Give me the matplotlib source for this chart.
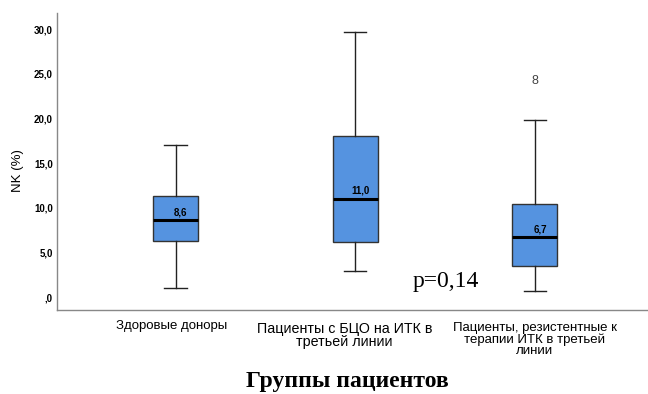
import matplotlib
matplotlib.use("Agg")
import matplotlib.pyplot as plt
import matplotlib.transforms as mtransforms

# Group labels (x axis)
groups = [
    "Здоровые доноры",
    "Пациенты с БЦО на ИТК в\nтретьей линии",
    "Пациенты, резистентные к\nтерапии ИТК в третьей\nлинии",
]

# Box-plot summary statistics of NK (%) per group
whisker_low = [1.0, 2.9, 0.7]
q1 = [6.3, 6.2, 3.5]
median = [8.6, 11.0, 6.7]
q3 = [11.3, 18.0, 10.4]
whisker_high = [17.0, 29.7, 19.8]
outliers = [[], [], [24.2]]
outlier_ids = [[], [], ["8"]]

y_ticks = [0, 5, 10, 15, 20, 25, 30]
p_text = "p=0,14"

box_color = "#5593E0"

fig = plt.figure(figsize=(6.48, 3.94), dpi=100)
ax = fig.add_axes([0.088, 0.213, 0.912, 0.754])

stats = []
for i in range(len(groups)):
    stats.append(dict(whislo=whisker_low[i], q1=q1[i], med=median[i],
                      q3=q3[i], whishi=whisker_high[i], fliers=[]))

positions = list(range(len(groups)))
ax.bxp(stats, positions=positions, widths=0.25, patch_artist=True,
       showfliers=False,
       boxprops=dict(facecolor=box_color, edgecolor="#333333", linewidth=1.0),
       medianprops=dict(color="black", linewidth=2.2),
       whiskerprops=dict(color="#222222", linewidth=1.0),
       capprops=dict(color="#222222", linewidth=1.0),
       capwidths=0.125)

# outliers drawn with their case number
for i, (vals, ids) in enumerate(zip(outliers, outlier_ids)):
    for v, cid in zip(vals, ids):
        ax.text(positions[i], v, cid, ha="center", va="center",
                fontsize=9, color="#444444", family="Liberation Sans")

# median value labels
for i, m in enumerate(median):
    ax.text(positions[i] + 0.03, m + 0.35, f"{m:.1f}".replace(".", ","),
            ha="center", va="bottom", fontsize=7, fontweight="bold",
            family="Liberation Sans")

ax.set_xlim(-0.66, 2.63)
ax.set_ylim(-1.45, 31.8)
ax.set_yticks(y_ticks)
ax.set_yticklabels([",0" if t == 0 else f"{t:.1f}".replace(".", ",") for t in y_ticks],
                   fontsize=7, fontweight="bold", family="Liberation Sans")
ax.tick_params(axis="y", length=0, pad=3)
ax.set_xticks([])

for s in ("top", "right"):
    ax.spines[s].set_visible(False)
for s in ("left", "bottom"):
    ax.spines[s].set_color("#888888")
    ax.spines[s].set_linewidth(1.0)

ax.set_ylabel("NK (%)", fontsize=9.5, family="Liberation Sans")
ax.yaxis.set_label_coords(-0.056, 0.47)

# group labels under the axis
label_x = [-0.02, 0.94, 2.0]
label_top = [320, 322, 322]
label_size = [9.5, 10.3, 9.5]
trans = mtransforms.blended_transform_factory(ax.transData, fig.transFigure)
for x, lab, fs, top in zip(label_x, groups, label_size, label_top):
    ax.text(x, 1 - top / 394, lab, transform=trans, ha="center", va="top",
            fontsize=fs, family="Liberation Sans", linespacing=0.9)

fig.text(347 / 648, 1 - 381 / 394, "Группы пациентов", ha="center", va="center",
         fontsize=17, fontweight="bold", family="Liberation Serif")

ax.text(446 / 648, 1 - 281 / 394, p_text, transform=fig.transFigure,
        ha="center", va="center", fontsize=17, family="Liberation Serif")

fig.savefig("out.png", dpi=100)
